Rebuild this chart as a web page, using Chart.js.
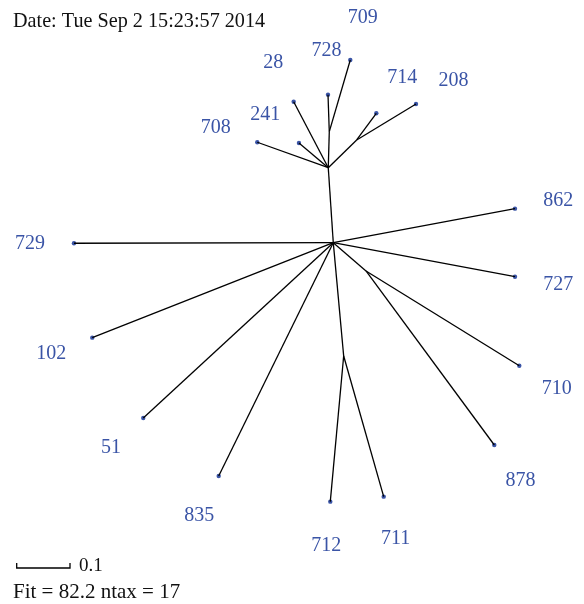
<!DOCTYPE html>
<html><head><meta charset="utf-8">
<script src="https://cdn.jsdelivr.net/npm/chart.js@4"></script>
<style>html,body{margin:0;padding:0;background:#fff}#wrap{width:584px;height:604px;position:relative}</style>
</head><body><div id="wrap"><canvas id="c"></canvas></div>
<script>
// Internal nodes of the unrooted tree (tree distance units)
const internalNames = ['C', 'A', 'B', 'D', 'E', 'F'];
const internalX = [0, -0.0094, -0.0075, 0.0439, 0.0614, 0.0195];
const internalY = [0, 0.1407, 0.2083, 0.1927, -0.0531, -0.2126];
const internalParent = [null, 'C', 'A', 'A', 'C', 'C'];

// Leaves (taxa)
const tipLabels = ['708', '241', '28', '728', '709', '714', '208', '862', '727', '710', '878', '712', '711', '835', '51', '102', '729'];
const tipX = [-0.1426, -0.0644, -0.0743, -0.0099, 0.0319, 0.0807, 0.1552, 0.3409, 0.3409, 0.3490, 0.3021, -0.0056, 0.0946, -0.2150, -0.3565, -0.4522, -0.4865];
const tipY = [0.1884, 0.1871, 0.2645, 0.2777, 0.3428, 0.2428, 0.2602, 0.0638, -0.0638, -0.2308, -0.3796, -0.4859, -0.4765, -0.4377, -0.3289, -0.1782, -0.0011];
const tipParent = ['A', 'A', 'A', 'B', 'B', 'D', 'D', 'C', 'C', 'E', 'E', 'F', 'F', 'C', 'C', 'C', 'C'];

const scaleBarLength = 0.1;
const scaleBarLabel = '0.1';
const dateText = 'Date: Tue Sep 2 15:23:57 2014';
const fitText = 'Fit = 82.2 ntax = 17';

const BLUE = '#3a54a6';
const FONT = '"Liberation Serif", "Times New Roman", serif';

function nodePos(name) {
  const i = internalNames.indexOf(name);
  return { x: internalX[i], y: internalY[i] };
}

const datasets = [];
internalNames.forEach((n, i) => {
  if (internalParent[i] === null) return;
  const p = nodePos(internalParent[i]);
  datasets.push({ data: [p, { x: internalX[i], y: internalY[i] }] });
});
tipLabels.forEach((t, i) => {
  const p = nodePos(tipParent[i]);
  datasets.push({ data: [p, { x: tipX[i], y: tipY[i] }] });
});
datasets.forEach(d => Object.assign(d, {
  showLine: true, borderColor: '#000', borderWidth: 1.3, pointRadius: 0, pointHoverRadius: 0, fill: false
}));
datasets.push({
  data: tipLabels.map((t, i) => ({ x: tipX[i], y: tipY[i] })),
  showLine: false, pointRadius: 2.2, pointHoverRadius: 2.2, pointBackgroundColor: BLUE, pointBorderWidth: 0
});

const overlay = {
  id: 'overlay',
  afterDraw(chart) {
    const ctx = chart.ctx, xs = chart.scales.x, ys = chart.scales.y;
    ctx.save();
    // leaf labels, placed beyond the tip along the terminal branch direction
    ctx.fillStyle = BLUE;
    ctx.font = '20px ' + FONT;
    ctx.textAlign = 'center';
    ctx.textBaseline = 'middle';
    tipLabels.forEach((t, i) => {
      const p = nodePos(tipParent[i]);
      const px = xs.getPixelForValue(p.x), py = ys.getPixelForValue(p.y);
      const tx = xs.getPixelForValue(tipX[i]), ty = ys.getPixelForValue(tipY[i]);
      const dx = tx - px, dy = ty - py, L = Math.hypot(dx, dy);
      ctx.fillText(t, tx + 44 * dx / L, ty + 44 * dy / L);
    });
    // header and footer text
    ctx.fillStyle = '#111';
    ctx.textAlign = 'left';
    ctx.font = '20.2px ' + FONT;
    ctx.fillText(dateText, 13, 22);
    ctx.font = '21px ' + FONT;
    ctx.fillText(fitText, 13, 592);
    // scale bar
    const len = xs.getPixelForValue(scaleBarLength) - xs.getPixelForValue(0);
    const x0 = 16.7, yb = 568;
    ctx.strokeStyle = '#000';
    ctx.lineWidth = 1.3;
    ctx.beginPath();
    ctx.moveTo(x0, yb - 5); ctx.lineTo(x0, yb); ctx.lineTo(x0 + len, yb); ctx.lineTo(x0 + len, yb - 5);
    ctx.stroke();
    ctx.font = '19px ' + FONT;
    ctx.fillText(scaleBarLabel, x0 + len + 9, 566);
    ctx.restore();
  }
};

new Chart(document.getElementById('c'), {
  type: 'scatter',
  data: { datasets },
  options: {
    responsive: true, maintainAspectRatio: false, animation: false,
    layout: { padding: 0, autoPadding: false },
    scales: {
      x: { type: 'linear', min: -0.6253, max: 0.4704, display: false },
      y: { type: 'linear', min: -0.6779, max: 0.4553, display: false }
    },
    plugins: { legend: { display: false }, tooltip: { enabled: false }, title: { display: false } }
  },
  plugins: [overlay]
});
</script>
</body></html>
